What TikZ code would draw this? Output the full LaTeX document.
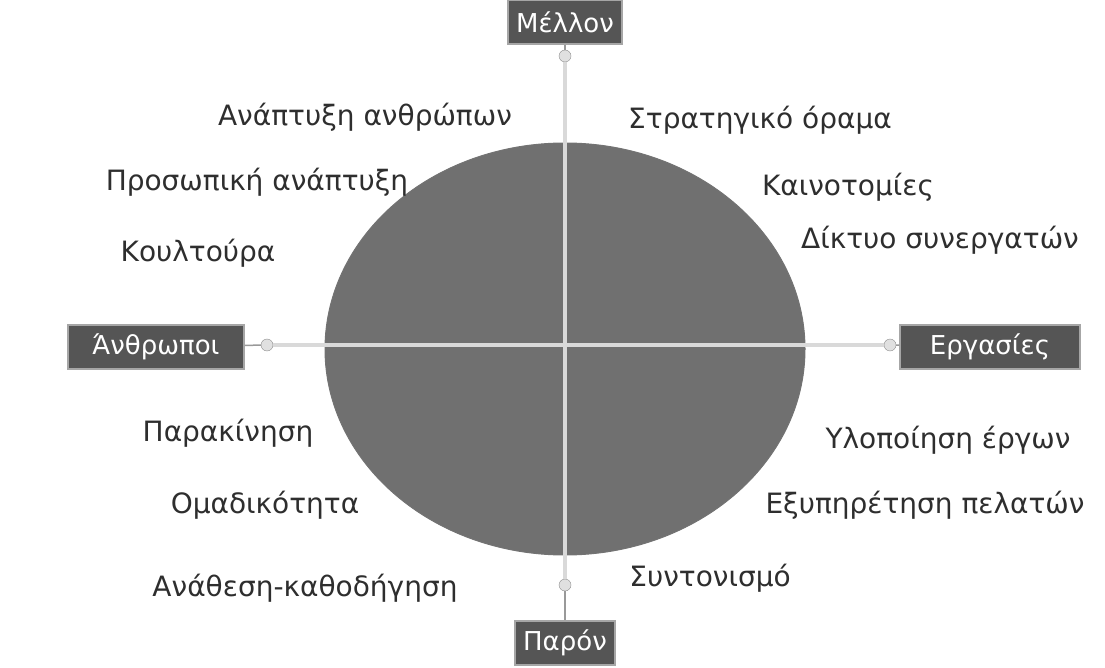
\documentclass[tikz,border=0pt]{standalone}
\usepackage{fontspec}
\setmainfont{DejaVu Sans}
\usetikzlibrary{positioning}
\definecolor{discgray}{HTML}{707070}
\definecolor{boxgray}{HTML}{555555}
\definecolor{labgray}{HTML}{2E2E2E}
\tikzset{
  axbox/.style = {draw=black!35, line width=1.5pt, fill=boxgray, text=white,
                  inner xsep=8pt, minimum height=44pt, font=\fontsize{26}{30}\selectfont},
  lab/.style   = {text=labgray, font=\fontsize{28}{32}\selectfont, inner sep=0pt},
  knob/.style  = {circle, draw=black!45, fill=black!12, minimum size=12pt, inner sep=0pt},
  axis/.style  = {draw=black!15, line width=4pt},
  stem/.style  = {draw=black!40, line width=1.5pt},
}

\begin{document}
\begin{tikzpicture}[x=1pt, y=-1pt]
  \useasboundingbox (0,0) rectangle (1105,668);
  % disc
  \fill[discgray, draw=black!55, line width=1pt] (565,349) ellipse [x radius=240, y radius=206];
  % cross
  \coordinate (c) at (565,345);
  \node[knob] (ct) at (565,56) {};
  \node[knob] (cb) at (565,585) {};
  \node[knob] (cl) at (267,345) {};
  \node[knob] (cr) at (890,345) {};
  \node[axbox] (mellon) at (565,22) {Μέλλον};
  \node[axbox] (paron) at (565,643) {Παρόν};
  \node[axbox, minimum width=176pt] (anthr) at (156,347) {Άνθρωποι};
  \node[axbox, minimum width=180pt] (ergas) at (990,347) {Εργασίες};
  \draw[stem] (mellon) -- (ct); \draw[stem] (cb) -- (paron);
  \draw[stem] (anthr) -- (cl); \draw[stem] (cr) -- (ergas);
  \draw[axis] (ct) -- (cb); \draw[axis] (cl) -- (cr);
  % labels
  \node[lab] (l1) at (365,117) {Ανάπτυξη ανθρώπων};
  \node[lab] (l2) at (257,182) {Προσωπική ανάπτυξη};
  \node[lab] (l3) at (198,253) {Κουλτούρα};
  \node[lab] (l4) at (228,433) {Παρακίνηση};
  \node[lab] (l5) at (265,505) {Ομαδικότητα};
  \node[lab] (l6) at (305,588) {Ανάθεση-καθοδήγηση};
  \node[lab] (r1) at (760,120) {Στρατηγικό όραμα};
  \node[lab] (r2) at (848,187) {Καινοτομίες};
  \node[lab] (r3) at (940,240) {Δίκτυο συνεργατών};
  \node[lab] (r4) at (948,440) {Υλοποίηση έργων};
  \node[lab] (r5) at (925,505) {Εξυπηρέτηση πελατών};
  \node[lab] (r6) at (710,578) {Συντονισμό};
\end{tikzpicture}
\end{document}
